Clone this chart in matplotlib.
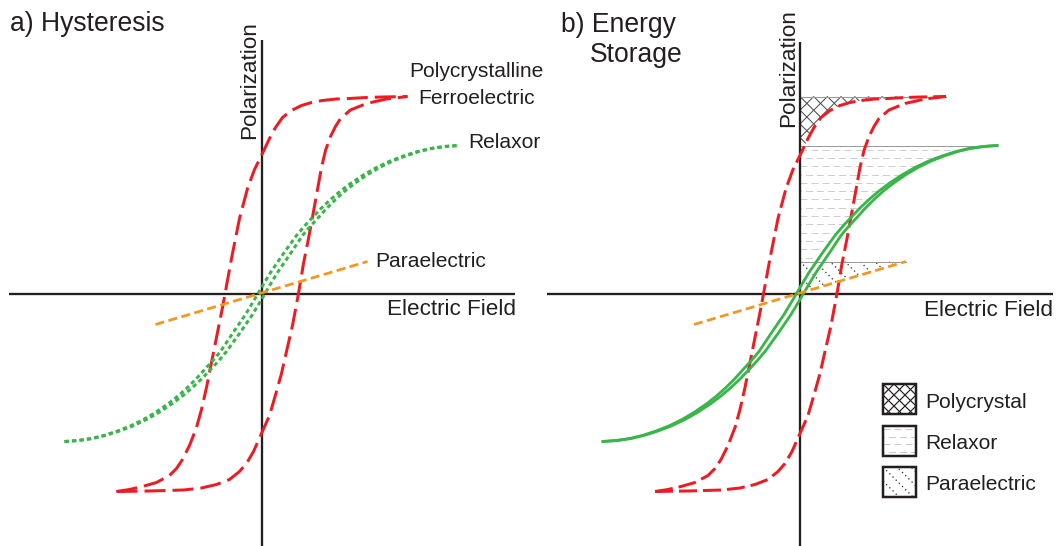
import numpy as np
import matplotlib
matplotlib.use('Agg')
import matplotlib.pyplot as plt
from matplotlib.path import Path
from matplotlib.patches import PathPatch, Rectangle
from matplotlib.collections import LineCollection
from matplotlib.transforms import Bbox

plt.rcParams['font.family'] = ['Liberation Sans', 'DejaVu Sans']

# ferroelectric loop (field E, polarization P in arbitrary units)
# upper branch = field sweeping down, lower branch = field sweeping up
FERRO_UP_E = [-145, -132, -119, -105, -92, -85, -79, -72, -65, -60,
              -55, -47, -39, -30, -22, -14, -7, 0, 8, 14,
              21, 30, 40, 50, 61, 75, 88, 105, 121, 146]
FERRO_UP_P = [-198, -196, -193, -189, -182, -175, -166, -152, -134, -116,
              -94, -54, -14, 35, 75, 105, 124, 138, 155, 166,
              176, 183, 188, 191, 193, 194.5, 195, 196, 196.5, 197]
FERRO_LO_E = [-145, -112, -78, -60, -45, -32, -22, -15, -8, 0,
              8, 15, 20, 25, 31, 37, 42, 47, 52, 56,
              60, 64, 69, 74, 79, 89, 105, 125, 146]
FERRO_LO_P = [-198, -197.5, -196.5, -194.5, -191, -186, -178, -170, -158, -140,
              -122, -98, -80, -58, -32, 0, 30, 55, 82, 104,
              126, 143, 157, 167, 175, 183.5, 190, 194.5, 197]

# relaxor slim loop: both branches share the same polarization samples
RELAX_HI_E = [-197, -183.5, -170, -157, -144, -131, -118, -105.5, -93, -83.5,
              -74, -65, -56, -48.5, -41, -29, -16, -7, 0, 9,
              22, 35, 42.5, 50, 59.5, 69, 79, 89, 102, 115,
              128.5, 142, 155.5, 169, 183, 197]
RELAX_LO_E = [-197, -183, -169, -155.5, -142, -128.5, -115, -102, -89, -79,
              -69, -59.5, -50, -42.5, -35, -22, -9, 0, 7, 16,
              29, 41, 48.5, 56, 65, 74, 83.5, 93, 105.5, 118,
              131, 144, 157, 170, 183.5, 197]
RELAX_P = [-148, -147, -145, -141.8, -137.5, -132.4, -126, -118.6, -110, -102.5,
           -94, -85, -75, -66.9, -58, -40, -21, -6, 6, 21,
           40, 58, 66.9, 75, 85, 94, 102.5, 110, 118.6, 126,
           132.4, 137.5, 141.8, 145, 147, 148]

# linear paraelectric response
PARA_E = [-106, 106]
PARA_P = [-31, 32]

LEGEND_LABELS = ['Polycrystal', 'Relaxor', 'Paraelectric']

RED = '#ed1c24'
GREEN = '#39b54a'
ORANGE = '#f7941d'
INK = '#231f20'
GRAY = '#9a9a9a'

DPI = 100
PX = 72 / DPI          # points per pixel


def dash(on, off, lw):
    # dash pattern given in pixels, converted to linewidth units
    return (0, (on / lw, off / lw))


def region_patch(ax, curve_e, curve_p, top, e0, e1, p0):
    # area between a curve and the line P = top, cut to the box [e0, e1] x [p0, top]
    verts = list(zip(curve_e, curve_p)) + [(curve_e[0], top), (curve_e[0], curve_p[0])]
    path = Path(verts, closed=True).clip_to_bbox(Bbox([[e0, p0], [e1, top]]))
    return PathPatch(path, transform=ax.transData, facecolor='none', edgecolor='none')


def offsets(anchor, lo, hi, step):
    n = int((hi - lo) / step) + 3
    cs = anchor + step * np.arange(-n, n + 1)
    return cs[(cs >= lo - step) & (cs <= hi + step)]


def hatch(ax, clip, box, kind, step, color, lw, ls='solid', zorder=1):
    (e0, p0), (e1, p1) = box
    segs, styles = [], []
    if kind in ('/', 'x'):
        # lines P = E + c
        for c in offsets(p1 - e0, p0 - e1, p1 - e0, step):
            segs.append([(e0, e0 + c), (e1, e1 + c)])
            styles.append(ls)
    if kind in ('\\', 'x'):
        # lines P = c - E
        for c in offsets(p1 + e0, p0 + e0, p1 + e1, step):
            segs.append([(e0, c - e0), (e1, c - e1)])
            styles.append(ls)
    if kind == '-':
        for i, c in enumerate(np.arange(p1 - step / 2, p0, -step)):
            segs.append([(e0, c), (e1, c)])
            styles.append(ls[i % 2] if isinstance(ls, list) else ls)
    lc = LineCollection(segs, colors=color, linewidths=lw * PX,
                        linestyles=styles, zorder=zorder)
    ax.add_collection(lc, autolim=False)
    lc.set_clip_path(clip)


def draw_axes(ax, top):
    ax.plot([-253, 253], [0, 0], color=INK, lw=2.3 * PX, zorder=2,
            solid_capstyle='butt')
    ax.plot([0, 0], [-260, top], color=INK, lw=2.3 * PX, zorder=2,
            solid_capstyle='butt')


def draw_ferro(ax, on, off):
    for e, p in ((FERRO_UP_E, FERRO_UP_P), (FERRO_LO_E, FERRO_LO_P)):
        ax.plot(e, p, color=RED, lw=3 * PX, ls=dash(on, off, 3), zorder=3)


def draw_para(ax):
    ax.plot(PARA_E, PARA_P, color=ORANGE, lw=2.7 * PX, ls=dash(9, 4.5, 2.7),
            zorder=3.2)


fig = plt.figure(figsize=(10.56, 5.46), dpi=DPI)
ax_a = fig.add_axes([0, 0, 0.5, 1])
ax_b = fig.add_axes([0.5, 0, 0.5, 1])

# ---------------- a) Hysteresis ----------------
draw_axes(ax_a, 253.5)
draw_ferro(ax_a, 21, 7)
for e in (RELAX_HI_E, RELAX_LO_E):
    ax_a.plot(e, RELAX_P, color=GREEN, lw=3 * PX, ls=dash(4.3, 3.2, 3), zorder=3.1)
draw_para(ax_a)

ax_a.text(-251.5, 262.5, 'a) Hysteresis', fontsize=19.1, color=INK,
          ha='left', va='baseline')
ax_a.text(-6.5, 213.5, 'Polarization', fontsize=16.2, color=INK, rotation=90,
          rotation_mode='anchor', ha='center', va='baseline')
ax_a.text(254.5, -21.5, 'Electric Field', fontsize=16.2, color=INK,
          ha='right', va='baseline')
ax_a.text(214.5, 216.5, 'Polycrystalline', fontsize=15.1, color=INK,
          ha='center', va='baseline')
ax_a.text(215, 190, 'Ferroelectric', fontsize=15.1, color=INK,
          ha='center', va='baseline')
ax_a.text(206.5, 145, 'Relaxor', fontsize=15.1, color=INK, ha='left', va='baseline')
ax_a.text(113.5, 26.8, 'Paraelectric', fontsize=15.1, color=INK,
          ha='left', va='baseline')

# ---------------- b) Energy Storage ----------------
ps, e_ferro = FERRO_UP_P[-1], FERRO_UP_E[-1]
pr_top, e_relax = RELAX_P[-1], RELAX_HI_E[-1]
pa_top, e_para = PARA_P[-1], PARA_E[-1]

# recoverable energy areas
clip = region_patch(ax_b, FERRO_UP_E, FERRO_UP_P, ps, 0, e_ferro, pr_top)
hatch(ax_b, clip, ((0, pr_top), (e_ferro, ps)), 'x', 13.7, '#4a4a4a', 1.0)

clip = region_patch(ax_b, RELAX_HI_E, RELAX_P, pr_top, 0, e_relax, pa_top)
hatch(ax_b, clip, ((0, pa_top), (e_relax, pr_top)), '-', 8.3, '#cfcfcf', 1.0,
      ls=[dash(7, 4, 1), (5.5, (7, 4))])

clip = region_patch(ax_b, PARA_E, PARA_P, pa_top, 0, e_para, -40)
hatch(ax_b, clip, ((0, -40), (e_para, pa_top)), '\\', 15, '#333333', 1.3,
      ls=dash(1.3, 3.2, 1.3))

for top, right in ((ps, e_ferro), (pr_top, e_relax), (pa_top, e_para)):
    ax_b.plot([0, right], [top, top], color=GRAY, lw=1.0 * PX, zorder=1.5)

draw_axes(ax_b, 251.5)
draw_ferro(ax_b, 18, 6)
for e in (RELAX_HI_E, RELAX_LO_E):
    ax_b.plot(e, RELAX_P, color=GREEN, lw=2.8 * PX, zorder=3.1)
draw_para(ax_b)

ax_b.text(-239, 261.5, 'b) Energy', fontsize=19.1, color=INK, ha='left', va='baseline')
ax_b.text(-210, 231.5, 'Storage', fontsize=19.1, color=INK, ha='left', va='baseline')
ax_b.text(-6, 225, 'Polarization', fontsize=16.2, color=INK, rotation=90,
          rotation_mode='anchor', ha='center', va='baseline')
ax_b.text(253, -22.5, 'Electric Field', fontsize=16.2, color=INK,
          ha='right', va='baseline')

# legend boxes drawn with the same fills
box_w, box_h, box_e, step = 33, 30, 83, 41.5
fills = [('x', 11, INK, 1.2, 'solid'),
         ('-', 7.5, '#c8c8c8', 1.0, [dash(7, 4, 1), (5.5, (7, 4))]),
         ('\\', 14, '#333333', 1.3, dash(1.3, 3.2, 1.3))]
for i, (label, (kind, sp, col, lw, ls)) in enumerate(zip(LEGEND_LABELS, fills)):
    top = -90.5 - i * step
    frame = Rectangle((box_e, top - box_h), box_w, box_h, transform=ax_b.transData)
    hatch(ax_b, frame, ((box_e, top - box_h), (box_e + box_w, top)), kind, sp,
          col, lw, ls=ls, zorder=4)
    ax_b.add_patch(Rectangle((box_e, top - box_h), box_w, box_h, fill=False,
                             ec=INK, lw=2.5 * PX, zorder=4.5))
    ax_b.text(box_e + 42, top - 23.5, label, fontsize=15.1, color=INK,
              ha='left', va='baseline')

ax_a.set_xlim(-261.5, 266.5)
ax_b.set_xlim(-272, 256)
for ax in (ax_a, ax_b):
    ax.set_ylim(-252.5, 293.5)
    ax.axis('off')
    ax.patch.set_visible(False)

fig.savefig('out.png', dpi=DPI)
plt.close(fig)
